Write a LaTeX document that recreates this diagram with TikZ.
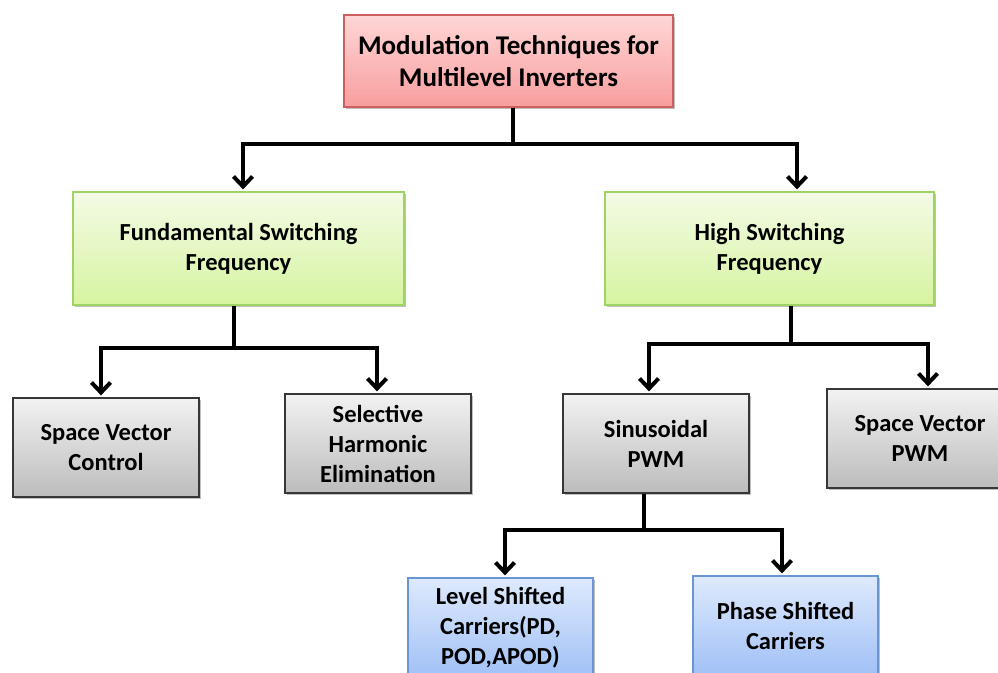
\documentclass[tikz,border=0pt]{standalone}
\usepackage{fontspec}
\setmainfont{Carlito}
\usetikzlibrary{arrows.meta,shadows}
\definecolor{pinkT}{RGB}{255,214,214}
\definecolor{pinkB}{RGB}{248,158,158}
\definecolor{pinkD}{RGB}{205,95,95}
\definecolor{greenT}{RGB}{244,251,230}
\definecolor{greenB}{RGB}{214,244,160}
\definecolor{greenD}{RGB}{160,210,100}
\definecolor{grayT}{RGB}{242,242,242}
\definecolor{grayB}{RGB}{188,188,188}
\definecolor{grayD}{RGB}{55,55,55}
\definecolor{blueT}{RGB}{222,234,253}
\definecolor{blueB}{RGB}{160,192,246}
\definecolor{blueD}{RGB}{105,150,210}
\tikzset{
  box/.style={rectangle, line width=1.2pt, align=center, inner sep=0pt,
    font=\bfseries\fontsize{24.5}{30}\selectfont,
    drop shadow={shadow xshift=2pt, shadow yshift=-2pt, opacity=0.25, fill=black}},
  pinkbox/.style={box, draw=pinkD, top color=pinkT, bottom color=pinkB},
  greenbox/.style={box, draw=greenD, top color=greenT, bottom color=greenB},
  graybox/.style={box, draw=grayD, top color=grayT, bottom color=grayB},
  bluebox/.style={box, draw=blueD, top color=blueT, bottom color=blueB},
  conn/.style={line width=4pt, black},
  arr/.style={conn, -{Straight Barb[length=10pt,width=19pt,line width=4pt]}, shorten >=2pt},
}
\begin{document}
\begin{tikzpicture}[x=1pt,y=1pt]
\path[use as bounding box, fill=white] (0,0) rectangle (998,672);

\node[pinkbox, minimum width=329pt, minimum height=92pt,
  font=\bfseries\fontsize{27}{32}\selectfont] (top) at (508.5,611)
  {Modulation Techniques for\\Multilevel Inverters};

\node[greenbox, minimum width=331pt, minimum height=113pt] (fsf) at (238.5,423.5)
  {Fundamental Switching\\Frequency};
\node[greenbox, minimum width=329pt, minimum height=113pt] (hsf) at (769.5,423.5)
  {High Switching\\Frequency};

\node[graybox, minimum width=186pt, minimum height=99pt] (svc) at (106,224.5)
  {Space Vector\\Control};
\node[graybox, minimum width=186pt, minimum height=99pt] (she) at (378,228.5)
  {Selective\\Harmonic\\Elimination};
\node[graybox, minimum width=186pt, minimum height=99pt] (sin) at (656,228.5)
  {Sinusoidal\\PWM};
\node[graybox, minimum width=186pt, minimum height=99pt] (svp) at (920,233.5)
  {Space Vector\\PWM};

\node[bluebox, minimum width=185pt, minimum height=100pt] (lsc) at (500.5,44)
  {Level Shifted\\Carriers(PD,\\POD,APOD)};
\node[bluebox, minimum width=185pt, minimum height=100pt] (psc) at (785.5,46)
  {Phase Shifted\\Carriers};

% top level connectors
\coordinate (j1) at (513,528);
\draw[conn] ([xshift=4.5pt]top.south) -- (j1);
\draw[arr] (j1) -| ([xshift=4.5pt]fsf.north);
\draw[arr] (j1) -| ([xshift=27.5pt]hsf.north);

% fundamental switching
\coordinate (j2) at (234,324);
\draw[conn] ([xshift=-4.5pt]fsf.south) -- (j2);
\draw[arr] (j2) -| ([xshift=-5pt]svc.north);
\draw[arr] (j2) -| ([xshift=-1pt]she.north);

% high switching
\coordinate (j3) at (791,328);
\draw[conn] ([xshift=21.5pt]hsf.south) -- (j3);
\draw[arr] (j3) -| ([xshift=-7pt]sin.north);
\draw[arr] (j3) -| ([xshift=8pt]svp.north);

% sinusoidal
\coordinate (j4) at (644,142);
\draw[conn] ([xshift=-12pt]sin.south) -- (j4);
\draw[arr] (j4) -| ([xshift=4.5pt]lsc.north);
\draw[arr] (j4) -| ([xshift=-3.5pt]psc.north);
\end{tikzpicture}
\end{document}
